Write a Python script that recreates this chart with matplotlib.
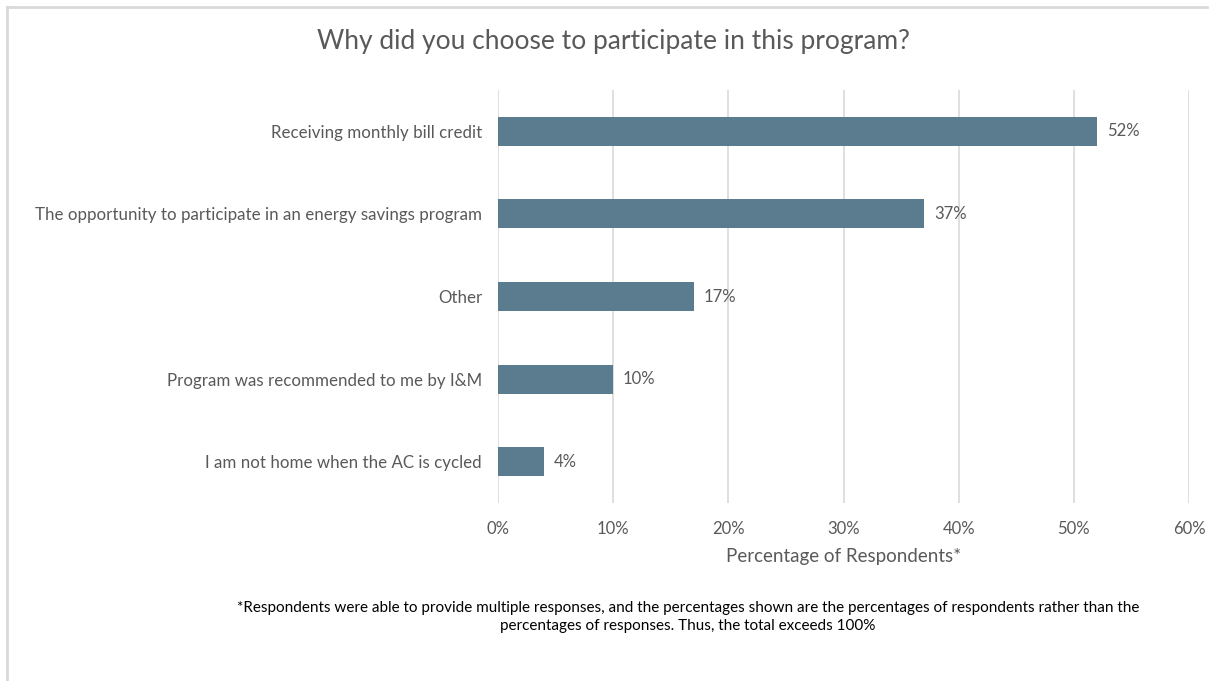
import matplotlib.pyplot as plt
from matplotlib.lines import Line2D

plt.rcParams['font.family'] = ['Lato', 'DejaVu Sans']

reasons = [
    "Receiving monthly bill credit",
    "The opportunity to participate in an energy savings program",
    "Other",
    "Program was recommended to me by I&M",
    "I am not home when the AC is cycled",
]
percent = [52, 37, 17, 10, 4]
xticks = [0, 10, 20, 30, 40, 50, 60]

bar_color = "#5B7C8F"
grid_color = "#D9D9D9"
text_color = "#595959"

fig = plt.figure(figsize=(12.09, 6.81), dpi=100)
ax = fig.add_axes([498 / 1209, 1 - 503 / 681, (1189 - 498) / 1209, (503 - 90) / 681])

ypos = range(len(reasons))
ax.barh(ypos, percent, height=0.35, color=bar_color, zorder=3)
ax.set_ylim(len(reasons) - 0.5, -0.5)
ax.set_xlim(0, 60)

for y, v in zip(ypos, percent):
    ax.text(v + 0.85, y, f"{v}%", va="center", ha="left", fontsize=12, color=text_color)

ax.set_xticks(xticks)
ax.set_xticklabels([f"{t}%" for t in xticks], fontsize=12, color=text_color)
ax.set_yticks(list(ypos))
ax.set_yticklabels(reasons, fontsize=12.2, color=text_color)
ax.tick_params(axis="both", length=0)
ax.tick_params(axis="x", pad=13)
ax.tick_params(axis="y", pad=11.5)
ax.grid(axis="x", color=grid_color, linewidth=1.2, zorder=0)
for s in ax.spines.values():
    s.set_visible(False)

ax.set_xlabel("Percentage of Respondents*", fontsize=13.5, color=text_color, labelpad=8)

fig.text(613 / 1209, 1 - 42 / 681, "Why did you choose to participate in this program?",
         ha="center", va="center", fontsize=19, color=text_color)
fig.text(688 / 1209, 1 - 617 / 681,
         "*Respondents were able to provide multiple responses, and the percentages shown are the percentages of respondents rather than the\n"
         "percentages of responses. Thus, the total exceeds 100%",
         ha="center", va="center", fontsize=11, color="black", linespacing=1.35)

# light frame around the chart area
fig.add_artist(Line2D([7 / 1209, 7 / 1209], [0, 1 - 7 / 681], transform=fig.transFigure,
                      color=grid_color, linewidth=2))
fig.add_artist(Line2D([7 / 1209, 1207 / 1209], [1 - 7 / 681, 1 - 7 / 681], transform=fig.transFigure,
                      color=grid_color, linewidth=2))

fig.savefig("out.png", dpi=100)
